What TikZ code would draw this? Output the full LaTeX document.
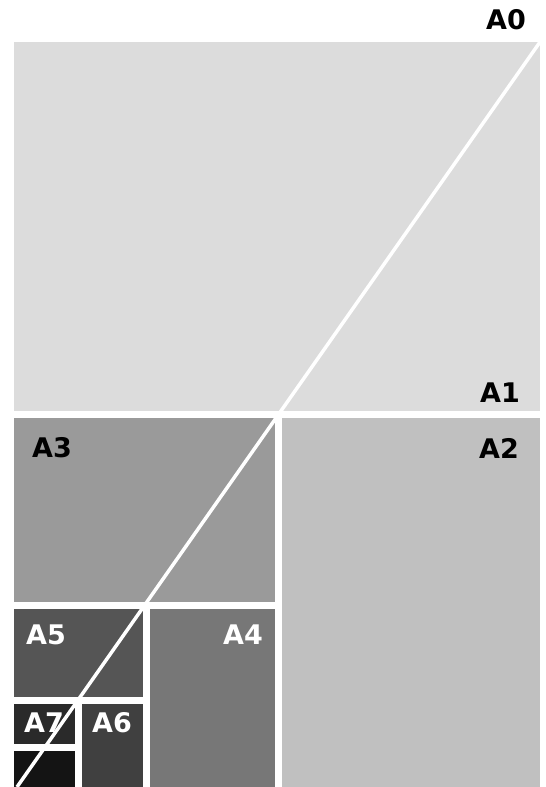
\documentclass[tikz,border=0pt]{standalone}
\usepackage{fontspec}
\newfontfamily\labelfont{DejaVu Sans}[BoldFont={DejaVu Sans Bold}]
\usepackage{tikz}

\definecolor{sheetA}{HTML}{DCDCDC}
\definecolor{sheetB}{HTML}{C0C0C0}
\definecolor{sheetC}{HTML}{9A9A9A}
\definecolor{sheetD}{HTML}{777777}
\definecolor{sheetE}{HTML}{555555}
\definecolor{sheetF}{HTML}{404040}
\definecolor{sheetG}{HTML}{2A2A2A}
\definecolor{sheetH}{HTML}{141414}

\begin{document}
\begin{tikzpicture}[x=1pt, y=1pt,
            cut/.style={white, line width=7pt},
            diag/.style={white, line width=3.5pt},
            size/.style={font=\labelfont\bfseries\fontsize{27}{27}\selectfont, inner sep=0pt},
            dark/.style={size, black},
            light/.style={size, white}]
            \useasboundingbox (0,0) rectangle (546,787);

            \fill[sheetA] (14,372) rectangle (540,745);
            \fill[sheetB] (278.5,0) rectangle (540,372);
            \fill[sheetC] (14,181) rectangle (278.5,372);
            \fill[sheetD] (146,0) rectangle (278.5,181);
            \fill[sheetE] (14,86) rectangle (146,181);
            \fill[sheetF] (78,0) rectangle (146,86);
            \fill[sheetG] (14,39) rectangle (78,86);
            \fill[sheetH] (14,0) rectangle (78,39);

            \draw[cut] (14,372) -- (540,372);
            \draw[cut] (278.5,372) -- (278.5,0);
            \draw[cut] (14,181) -- (278.5,181);
            \draw[cut] (146,181) -- (146,0);
            \draw[cut] (14,86) -- (146,86);
            \draw[cut] (78,86) -- (78,0);
            \draw[cut] (14,39) -- (78,39);
            \draw[diag] (540,745) -- (17,0);

            \node[dark] (a0) at (506,767) {A0};
            \node[dark] (a1) at (500,394) {A1};
            \node[dark] (a2) at (499,339) {A2};
            \node[dark] (a3) at (52,339) {A3};
            \node[light] (a4) at (243,152) {A4};
            \node[light] (a5) at (46,152) {A5};
            \node[light] (a6) at (112,64) {A6};
            \node[light] (a7) at (44,64) {A7};
        \end{tikzpicture}
\end{document}
